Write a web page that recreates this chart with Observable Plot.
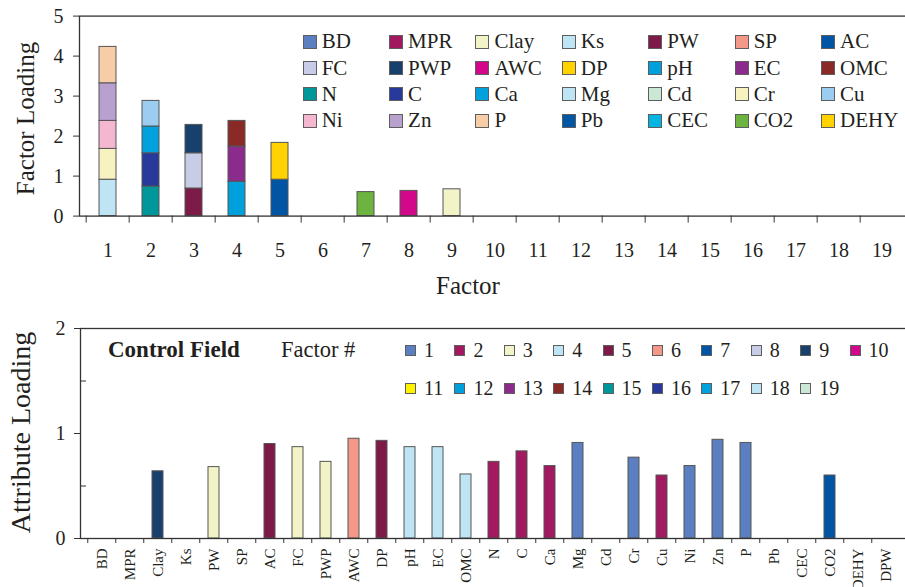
<!DOCTYPE html>
<html>
<head>
<meta charset="utf-8">
<script src="https://cdn.jsdelivr.net/npm/d3@7"></script>
<script src="https://cdn.jsdelivr.net/npm/@observablehq/plot@0.6"></script>
<style>
  html, body { margin: 0; padding: 0; background: #fff; overflow: hidden; }
  #wrap { position: relative; width: 905px; height: 587px; font-family: "Liberation Serif", serif; color: #231f20; }
  #top, #bottom { position: absolute; left: 0; }
  #top { top: 0; }
  #bottom { top: 300px; }
  .leg { position: absolute; display: grid; }
  .item { display: flex; align-items: center; white-space: nowrap; }
  .sw { box-sizing: border-box; border: 1.5px solid #5e5e5e; flex: none; }
  #leg1 { left: 302.7px; top: 28.9px; grid-template-columns: repeat(7, 86.4px); grid-auto-rows: 26.2px; font-size: 21px; }
  #leg1 .sw { width: 14px; height: 14px; margin-right: 5px; }
  #leg2 { left: 405px; top: 331.5px; grid-template-columns: repeat(10, 49.4px); grid-auto-rows: 38px; font-size: 20px; }
  #leg2 .sw { width: 11px; height: 11px; margin-right: 8px; }
  .lbl { position: absolute; height: 38px; line-height: 38px; font-size: 22.5px; white-space: nowrap; }
</style>
</head>
<body>
<div id="wrap">
  <div id="top"></div>
  <div id="bottom"></div>
  <div id="leg1" class="leg"></div>
  <div class="lbl" style="left:108px; top:330.5px; font-weight:bold; font-size:23px;">Control Field</div>
  <div class="lbl" style="left:281px; top:330.5px;">Factor #</div>
  <div id="leg2" class="leg"></div>
</div>
<script>
// ---------- data ----------
const factors = [1,2,3,4,5,6,7,8,9,10,11,12,13,14,15,16,17,18,19];
const attributes = ["BD","MPR","Clay","Ks","PW","SP","AC","FC","PWP","AWC","DP","pH","EC","OMC","N","C","Ca","Mg","Cd","Cr","Cu","Ni","Zn","P","Pb","CEC","CO2","DEHY","DPW"];
const legendAttrs = ["BD","MPR","Clay","Ks","PW","SP","AC","FC","PWP","AWC","DP","pH","EC","OMC","N","C","Ca","Mg","Cd","Cr","Cu","Ni","Zn","P","Pb","CEC","CO2","DEHY"];
const attrColors = ["#5b7fc0","#a3195f","#f3f3c8","#bfe4f3","#7d1a48","#f4998a","#0055a4","#c8cce6","#17406d","#d2078a","#ffd200","#00a0dc","#8b2c8d","#8a2a26","#00979b","#27399a","#00a1dd","#bfe4f3","#cbe8d6","#f6f3c0","#9acdf0","#f5b6cf","#b8a1cf","#f6cda7","#0055a4","#00b5e2","#6db33f","#ffd200"];
const factorColors = ["#5b7fc0","#a3195f","#f3f3c8","#bfe4f3","#7d1a48","#f4998a","#0055a4","#c8cce6","#17406d","#d2078a","#fff200","#00a0dc","#8b2c8d","#8a2a26","#00979b","#27399a","#00a1dd","#bfe4f3","#cbe8d6"];

// top chart: stacked factor loadings
const topFactor = [1,1,1,1,1,2,2,2,2,3,3,3,4,4,4,5,5,7,8,9];
const topAttr   = ["Mg","Cr","Ni","Zn","P","N","C","Ca","Cu","PW","FC","PWP","pH","EC","OMC","AC","DP","CO2","AWC","Clay"];
const topValue  = [0.91,0.77,0.70,0.94,0.91,0.74,0.83,0.67,0.64,0.69,0.88,0.71,0.86,0.88,0.64,0.91,0.92,0.60,0.63,0.67];

// bottom chart: attribute loadings (Control Field)
const ctrlAttr   = ["Clay","PW","AC","FC","PWP","AWC","DP","pH","EC","OMC","N","C","Ca","Mg","Cr","Cu","Ni","Zn","P","CO2"];
const ctrlFactor = [9,3,5,3,3,6,5,4,4,4,2,2,2,1,1,2,1,1,1,7];
const ctrlValue  = [0.64,0.68,0.90,0.87,0.73,0.95,0.93,0.87,0.87,0.61,0.73,0.83,0.69,0.91,0.77,0.60,0.69,0.94,0.91,0.60];

const topTicks = [0,1,2,3,4,5];
const botTicks = [0,1,2];
const botMinor = [0.5,1.5];

// ---------- build tables ----------
const topData = topFactor.map((f, i) => ({factor: f, attr: topAttr[i], value: topValue[i]}));
const ctrlData = ctrlAttr.map((a, i) => ({attr: a, factor: ctrlFactor[i], value: ctrlValue[i]}));

const font = "'Liberation Serif', serif";
const axisColor = "#333";
const intFmt = d => String(d);

// ---------- top chart ----------
const W = 905;
const tML = 79, tMR = -4;
const topStep = (W - tML - tMR) / factors.length;
const topPlot = Plot.plot({
  width: W, height: 300,
  marginLeft: tML, marginRight: tMR, marginTop: 15.6, marginBottom: 84.4,
  style: {fontFamily: font, color: "#231f20", background: "white", overflow: "hidden"},
  x: {type: "band", domain: factors, paddingInner: 0.61, paddingOuter: 0.305, label: null},
  y: {domain: [0, 5], label: null},
  color: {domain: legendAttrs, range: attrColors},
  marks: [
    Plot.barY(topData, {x: "factor", y: "value", fill: "attr", stroke: "#555", strokeWidth: 1}),
    Plot.frame({stroke: axisColor, strokeWidth: 1.3}),
    Plot.axisY({ticks: topTicks, tickFormat: intFmt, tickSize: 6, tickPadding: 10, fontSize: 20, stroke: axisColor, label: null}),
    Plot.axisX({tickSize: 7, tickFormat: () => "", dx: -topStep / 2, stroke: axisColor, label: null}),
    Plot.axisX({tickSize: 0, tickPadding: 27, fontSize: 20, label: null}),
    Plot.text(["Factor"], {text: d => d, frameAnchor: "bottom", lineAnchor: "middle", textAnchor: "middle", dx: -26.5, dy: 69.4, fontSize: 25}),
    Plot.text(["Factor Loading"], {text: d => d, frameAnchor: "left", textAnchor: "middle", lineAnchor: "middle", rotate: -90, dx: -54, dy: 2.4, fontSize: 25})
  ]
});
document.getElementById("top").appendChild(topPlot);

// ---------- bottom chart ----------
const bML = 80, bMR = -1.5;
const botStep = (W - bML - bMR) / attributes.length;
const botPlot = Plot.plot({
  width: W, height: 287,
  marginLeft: bML, marginRight: bMR, marginTop: 28, marginBottom: 49,
  style: {fontFamily: font, color: "#231f20", background: "white", overflow: "hidden"},
  x: {type: "band", domain: attributes, paddingInner: 0.61, paddingOuter: 0.305, label: null},
  y: {domain: [0, 2], label: null},
  color: {type: "ordinal", domain: factors, range: factorColors},
  marks: [
    Plot.barY(ctrlData, {x: "attr", y: "value", fill: "factor", stroke: "#555", strokeWidth: 1}),
    Plot.frame({stroke: axisColor, strokeWidth: 1.3}),
    Plot.axisY({ticks: botTicks, tickFormat: intFmt, tickSize: 6, tickPadding: 9, fontSize: 20, stroke: axisColor, label: null}),
    Plot.axisY({ticks: botMinor, tickSize: -6, tickFormat: () => "", stroke: axisColor, label: null}),
    Plot.axisX({tickSize: 5, tickFormat: () => "", dx: -botStep / 2, stroke: axisColor, label: null}),
    Plot.axisX({tickSize: 0, tickRotate: -90, tickPadding: 10, fontSize: 15, label: null}),
    Plot.text(["Attribute Loading"], {text: d => d, frameAnchor: "left", textAnchor: "middle", lineAnchor: "middle", rotate: -90, dx: -59, dy: -1, fontSize: 28})
  ]
});
document.getElementById("bottom").appendChild(botPlot);

// ---------- legends ----------
const leg1 = document.getElementById("leg1");
legendAttrs.forEach((a, i) => {
  const it = document.createElement("div");
  it.className = "item";
  it.innerHTML = `<span class="sw" style="background:${attrColors[i]}"></span><span>${a}</span>`;
  leg1.appendChild(it);
});
const leg2 = document.getElementById("leg2");
factors.forEach((f, i) => {
  const it = document.createElement("div");
  it.className = "item";
  it.innerHTML = `<span class="sw" style="background:${factorColors[i]}"></span><span>${f}</span>`;
  leg2.appendChild(it);
});
</script>
</body>
</html>
